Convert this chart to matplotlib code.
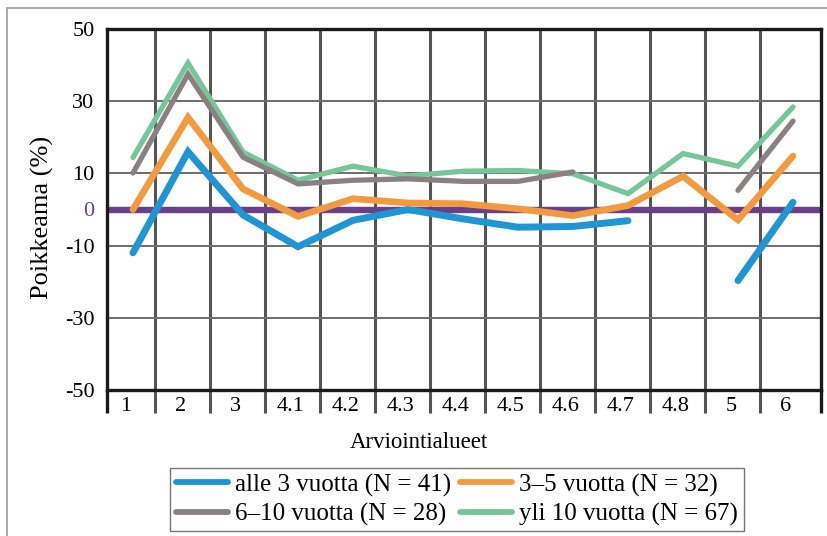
import numpy as np
import matplotlib
matplotlib.use("Agg")
import matplotlib.pyplot as plt
from matplotlib.patches import Rectangle

plt.rcParams["font.family"] = ["Liberation Serif", "DejaVu Serif"]

categories = ["1", "2", "3", "4.1", "4.2", "4.3", "4.4", "4.5", "4.6", "4.7", "4.8", "5", "6"]

# poikkeama (%) per arviointialue, NaN = ei arvoa
alle3 = [-12, 16, -1.5, -10.3, -3, 0, -2.6, -4.9, -4.7, -3.1, np.nan, -19.7, 2.0]
v3_5 = [0, 25.5, 5.7, -1.9, 3.0, 1.8, 1.6, 0.2, -1.7, 1.1, 9.2, -2.9, 14.8]
v6_10 = [10.1, 37.5, 14.5, 7.1, 8.1, 8.5, 7.8, 7.8, 10.4, np.nan, np.nan, 5.3, 24.5]
yli10 = [14.4, 40.6, 15.9, 8.1, 12.0, 9.3, 10.6, 10.8, 9.9, 4.4, 15.5, 12.0, 28.4]

labels = ["alle 3 vuotta (N = 41)", "3\u20135 vuotta (N = 32)",
          "6\u201310 vuotta (N = 28)", "yli 10 vuotta (N = 67)"]
colors = ["#1f96d3", "#f29a40", "#8a7f81", "#76c69a"]
widths = [5.0, 4.8, 3.8, 3.8]
yticks = [50, 30, 10, 0, -10, -30, -50]

W, H = 827, 536
fig = plt.figure(figsize=(W / 100, H / 100), dpi=100)

# outer frame
fig.add_artist(Rectangle((7 / W, -0.1), 1.2, 1 - 8 / H + 0.1, transform=fig.transFigure,
                         fill=False, edgecolor="#999999", lw=1.2))

ax = fig.add_axes([107 / W, (H - 390) / H, (821 - 107) / W, (390 - 29) / H])
x = np.arange(len(categories))
ax.set_xlim(-26 / 55, 12 + 28 / 55)
ax.set_ylim(-50, 50)

# grid
for gx in x[:-1] + 0.4:
    ax.axvline(gx, color="#555555", lw=2.2, zorder=1)
    ax.plot([gx, gx], [-50, -56.5], color="#555555", lw=2.2, clip_on=False, solid_capstyle="butt")
for e in ax.get_xlim():
    ax.plot([e, e], [-50, -56.5], color="#1a1a1a", lw=2.4, clip_on=False, solid_capstyle="butt")
for gy in [50, 30, 10, -10, -30, -50]:
    ax.axhline(gy, color="#6e6e6e", lw=1.4, zorder=1)
ax.axhline(0, color="#6a3f8a", lw=4.6, zorder=2)

series = [alle3, v3_5, v6_10, yli10]
order = [4, 5, 6, 3]
for vals, lab, c, w, z in zip(series, labels, colors, widths, order):
    ax.plot(x, vals, color=c, lw=w, label=lab, solid_capstyle="round",
            solid_joinstyle="miter", zorder=z)

for s in ax.spines.values():
    s.set_color("#1a1a1a")
    s.set_linewidth(2.4)

ax.set_xticks(x - 0.13)
ax.set_xticklabels(categories, fontsize=16)
ax.tick_params(axis="x", length=0, pad=5)
ax.set_yticks(yticks)
ax.set_yticklabels([str(v) for v in yticks], fontsize=16)
ax.tick_params(axis="y", length=0, pad=9)
ax.get_yticklabels()[3].set_color("#6a3f8a")

fig.text(42 / W, 1 - 217 / H, "Poikkeama (%)", rotation=90, ha="center", va="center", fontsize=19)
fig.text(419 / W, 1 - 443 / H, "Arviointialueet", ha="center", va="center", fontsize=16.5)

h, l = ax.get_legend_handles_labels()
leg = fig.legend([h[0], h[2], h[1], h[3]], [l[0], l[2], l[1], l[3]], ncol=2,
                 loc="upper left", bbox_to_anchor=(170 / W, 1 - 468 / H),
                 fontsize=18, frameon=True, fancybox=False, handlelength=2.1,
                 handletextpad=0.28, columnspacing=0.35, borderpad=0.22,
                 labelspacing=0.25, borderaxespad=0)
leg.get_frame().set_edgecolor("#555555")
leg.get_frame().set_linewidth(1.0)
for lh in leg.get_lines():
    lh.set_linewidth(4.2)

fig.savefig("out.png", dpi=100)
